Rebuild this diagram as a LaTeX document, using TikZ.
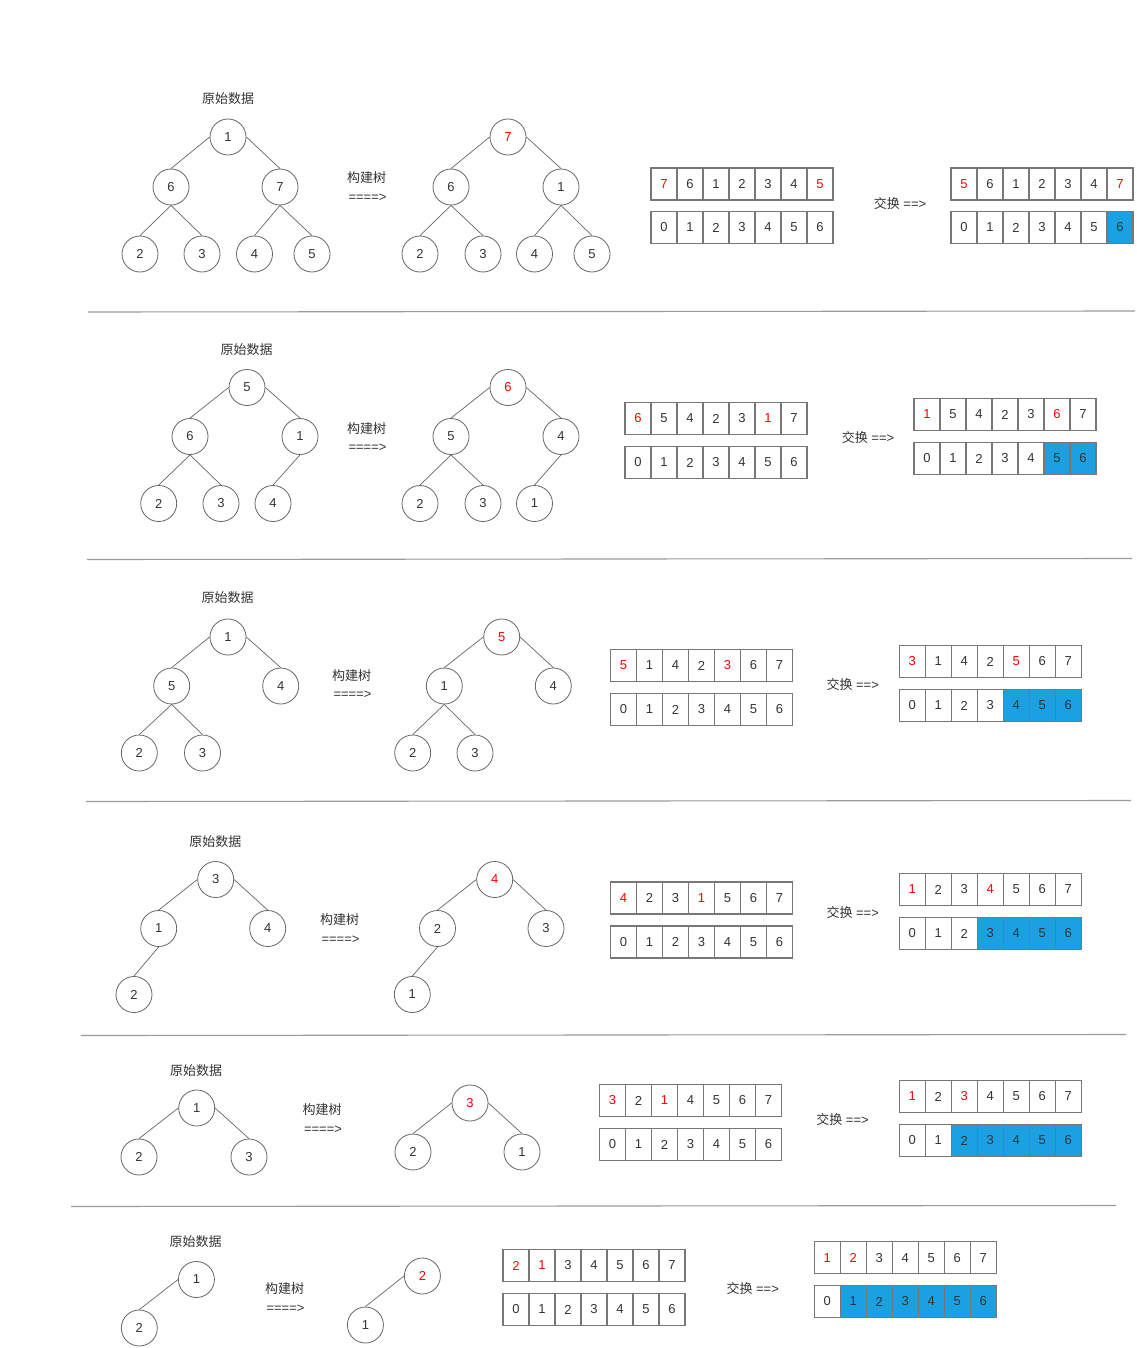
\documentclass[tikz,border=0pt]{standalone}
\usepackage{fontspec}
\setmainfont{Liberation Sans}
\newfontfamily\cjk{Noto Sans CJK SC}
\definecolor{ln}{HTML}{666666}
\definecolor{cellln}{HTML}{777777}
\definecolor{tx}{HTML}{333333}
\definecolor{cellblue}{HTML}{1BA1E2}
\definecolor{sepc}{HTML}{9A9A9A}
\tikzset{
  circ/.style={circle,draw=ln,line width=0.8pt,minimum size=36pt,inner sep=0pt,text=tx,font=\fontsize{13}{15}\selectfont},
  edge/.style={draw=ln,line width=0.7pt},
  cell/.style={rectangle,draw=cellln,line width=1.2pt,minimum width=26pt,minimum height=32pt,inner sep=0pt,text=tx,font=\fontsize{13}{15}\selectfont},
  nc/.style={},
  rc/.style={text=red},
  bc/.style={fill=cellblue},
  lbl/.style={text=tx,font=\cjk\fontsize{13}{15}\selectfont,inner sep=0pt},
  eqtxt/.style={text=tx,font=\fontsize{13}{15}\selectfont,inner sep=0pt},
  sepline/.style={draw=sepc,line width=1.1pt}
}
\newcommand\cellrow[4]{%
  \foreach \v/\s [count=\i from 0] in {#4}{%
    \node[cell,\s] (#1\i) at ({#2+13+26*\i},{#3+16}) {\v};}}
\begin{document}
\begin{tikzpicture}[x=1pt,y=-1pt]
\useasboundingbox (0,0) rectangle (1136,1348);
\fill[white] (0,0) rectangle (1136,1348);

% ================= Row 1 =================
\node[lbl] (t1) at (228,99) {原始数据};
\node[circ] (a1) at (228,137) {1};
\node[circ] (a2) at (171,187) {6};
\node[circ] (a3) at (280,187) {7};
\node[circ] (a4) at (140,254) {2};
\node[circ] (a5) at (202,254) {3};
\node[circ] (a6) at (254.5,254) {4};
\node[circ] (a7) at (312,254) {5};
\draw[edge] (a1.west) -- (a2.north);
\draw[edge] (a1.east) -- (a3.north);
\draw[edge] (a2.south) -- (a4.north);
\draw[edge] (a2.south) -- (a5.north);
\draw[edge] (a3.south) -- (a6.north);
\draw[edge] (a3.south) -- (a7.north);
\node[lbl] (k1) at (366.5,178) {构建树};
\node[eqtxt] (e1) at (367.5,198) {====>};
\node[circ,text=red] (b1) at (508,137) {7};
\node[circ] (b2) at (451,187) {6};
\node[circ] (b3) at (561,187) {1};
\node[circ] (b4) at (420,254) {2};
\node[circ] (b5) at (483,254) {3};
\node[circ] (b6) at (534.5,254) {4};
\node[circ] (b7) at (592,254) {5};
\draw[edge] (b1.west) -- (b2.north);
\draw[edge] (b1.east) -- (b3.north);
\draw[edge] (b2.south) -- (b4.north);
\draw[edge] (b2.south) -- (b5.north);
\draw[edge] (b3.south) -- (b6.north);
\draw[edge] (b3.south) -- (b7.north);
\cellrow{pa}{651}{168}{7/rc,6/nc,1/nc,2/nc,3/nc,4/nc,5/rc}
\cellrow{pb}{651}{211.5}{0/nc,1/nc,2/nc,3/nc,4/nc,5/nc,6/nc}
\node[eqtxt] (s1) at (900,204) {{\cjk 交换} ==>};
\cellrow{qa}{951}{168}{5/rc,6/nc,1/nc,2/nc,3/nc,4/nc,7/rc}
\cellrow{qb}{951}{211.5}{0/nc,1/nc,2/nc,3/nc,4/nc,5/nc,6/bc}
\coordinate (l1a) at (88,312);
\coordinate (l1b) at (1135,311);
\draw[sepline] (l1a) -- (l1b);

% ================= Row 2 =================
\node[lbl] (t2) at (246.5,350) {原始数据};
\node[circ] (c1) at (247,387.5) {5};
\node[circ] (c2) at (190,436.5) {6};
\node[circ] (c3) at (300,436.5) {1};
\node[circ] (c4) at (158.7,503.5) {2};
\node[circ] (c5) at (221,503.5) {3};
\node[circ] (c6) at (273,503.5) {4};
\draw[edge] (c1.west) -- (c2.north);
\draw[edge] (c1.east) -- (c3.north);
\draw[edge] (c2.south) -- (c4.north);
\draw[edge] (c2.south) -- (c5.north);
\draw[edge] (c3.south) -- (c6.north);
\node[lbl] (k2) at (366.5,429) {构建树};
\node[eqtxt] (e2) at (367.5,448) {====>};
\node[circ,text=red] (d1) at (508,387.5) {6};
\node[circ] (d2) at (451,436.5) {5};
\node[circ] (d3) at (561,436.5) {4};
\node[circ] (d4) at (420,503.5) {2};
\node[circ] (d5) at (483,503.5) {3};
\node[circ] (d6) at (534.5,503.5) {1};
\draw[edge] (d1.west) -- (d2.north);
\draw[edge] (d1.east) -- (d3.north);
\draw[edge] (d2.south) -- (d4.north);
\draw[edge] (d2.south) -- (d5.north);
\draw[edge] (d3.south) -- (d6.north);
\cellrow{ra}{625}{402.5}{6/rc,5/nc,4/nc,2/nc,3/nc,1/rc,7/nc}
\cellrow{rb}{625}{446.5}{0/nc,1/nc,2/nc,3/nc,4/nc,5/nc,6/nc}
\node[eqtxt] (s2) at (868,437.5) {{\cjk 交换} ==>};
\cellrow{ua}{914}{398.5}{1/rc,5/nc,4/nc,2/nc,3/nc,6/rc,7/nc}
\cellrow{ub}{914}{442.5}{0/nc,1/nc,2/nc,3/nc,4/nc,5/bc,6/bc}
\coordinate (l2a) at (87,559.5);
\coordinate (l2b) at (1132,558.5);
\draw[sepline] (l2a) -- (l2b);

% ================= Row 3 =================
\node[lbl] (t3) at (227.5,598) {原始数据};
\node[circ] (f1) at (228,637) {1};
\node[circ] (f2) at (171.7,686) {5};
\node[circ] (f3) at (280.7,686) {4};
\node[circ] (f4) at (139.3,753) {2};
\node[circ] (f5) at (202.5,753) {3};
\draw[edge] (f1.west) -- (f2.north);
\draw[edge] (f1.east) -- (f3.north);
\draw[edge] (f2.south) -- (f4.north);
\draw[edge] (f2.south) -- (f5.north);
\node[lbl] (k3) at (351.5,676) {构建树};
\node[eqtxt] (e3) at (352.5,695) {====>};
\node[circ,text=red] (g1) at (501.7,637) {5};
\node[circ] (g2) at (444.3,686) {1};
\node[circ] (g3) at (553.3,686) {4};
\node[circ] (g4) at (412.7,753) {2};
\node[circ] (g5) at (475,753) {3};
\draw[edge] (g1.west) -- (g2.north);
\draw[edge] (g1.east) -- (g3.north);
\draw[edge] (g2.south) -- (g4.north);
\draw[edge] (g2.south) -- (g5.north);
\cellrow{va}{610.5}{649.5}{5/rc,1/nc,4/nc,2/nc,3/rc,6/nc,7/nc}
\cellrow{vb}{610.5}{693.5}{0/nc,1/nc,2/nc,3/nc,4/nc,5/nc,6/nc}
\node[eqtxt] (s3) at (852.7,684.5) {{\cjk 交换} ==>};
\cellrow{wa}{899.3}{645.5}{3/rc,1/nc,4/nc,2/nc,5/rc,6/nc,7/nc}
\cellrow{wb}{899.3}{689.5}{0/nc,1/nc,2/nc,3/nc,4/bc,5/bc,6/bc}
\coordinate (l3a) at (86,801.5);
\coordinate (l3b) at (1131,800.5);
\draw[sepline] (l3a) -- (l3b);

% ================= Row 4 =================
\node[lbl] (t4) at (215.3,842) {原始数据};
\node[circ] (h1) at (215.7,879.5) {3};
\node[circ] (h2) at (158.7,928.5) {1};
\node[circ] (h3) at (267.7,928.5) {4};
\node[circ] (h4) at (134,994.5) {2};
\draw[edge] (h1.west) -- (h2.north);
\draw[edge] (h1.east) -- (h3.north);
\draw[edge] (h2.south) -- (h4.north);
\node[lbl] (k4) at (339.7,920) {构建树};
\node[eqtxt] (e4) at (340.5,940) {====>};
\node[circ,text=red] (m1) at (494.7,879.5) {4};
\node[circ] (m2) at (437.5,928.5) {2};
\node[circ] (m3) at (546,928.5) {3};
\node[circ] (m4) at (412.3,994.5) {1};
\draw[edge] (m1.west) -- (m2.north);
\draw[edge] (m1.east) -- (m3.north);
\draw[edge] (m2.south) -- (m4.north);
\cellrow{xa}{610.5}{882}{4/rc,2/nc,3/nc,1/rc,5/nc,6/nc,7/nc}
\cellrow{xb}{610.5}{926}{0/nc,1/nc,2/nc,3/nc,4/nc,5/nc,6/nc}
\node[eqtxt] (s4) at (852.7,913) {{\cjk 交换} ==>};
\cellrow{ya}{899.3}{873.5}{1/rc,2/nc,3/nc,4/rc,5/nc,6/nc,7/nc}
\cellrow{yb}{899.3}{917.5}{0/nc,1/nc,2/nc,3/bc,4/bc,5/bc,6/bc}
\coordinate (l4a) at (81,1035.5);
\coordinate (l4b) at (1126,1034.5);
\draw[sepline] (l4a) -- (l4b);

% ================= Row 5 =================
\node[lbl] (t5) at (196,1071) {原始数据};
\node[circ] (n1) at (196.7,1108) {1};
\node[circ] (n2) at (139,1157) {2};
\node[circ] (n3) at (249,1157) {3};
\draw[edge] (n1.west) -- (n2.north);
\draw[edge] (n1.east) -- (n3.north);
\node[lbl] (k5) at (322,1110) {构建树};
\node[eqtxt] (e5) at (323,1130) {====>};
\node[circ,text=red] (o1) at (470,1103) {3};
\node[circ] (o2) at (413,1152) {2};
\node[circ] (o3) at (522,1152) {1};
\draw[edge] (o1.west) -- (o2.north);
\draw[edge] (o1.east) -- (o3.north);
\cellrow{za}{599.5}{1084.5}{3/rc,2/nc,1/rc,4/nc,5/nc,6/nc,7/nc}
\cellrow{zb}{599.5}{1128.5}{0/nc,1/nc,2/nc,3/nc,4/nc,5/nc,6/nc}
\node[eqtxt] (s5) at (842.5,1119.5) {{\cjk 交换} ==>};
\cellrow{ka}{899.3}{1080.5}{1/rc,2/nc,3/rc,4/nc,5/nc,6/nc,7/nc}
\cellrow{kb}{899.3}{1124.5}{0/nc,1/nc,2/bc,3/bc,4/bc,5/bc,6/bc}
\coordinate (l5a) at (71,1206.5);
\coordinate (l5b) at (1116,1205.5);
\draw[sepline] (l5a) -- (l5b);

% ================= Row 6 =================
\node[lbl] (t6) at (195.5,1242) {原始数据};
\node[circ] (p1) at (196.4,1279.5) {1};
\node[circ] (p2) at (139.3,1328) {2};
\draw[edge] (p1.west) -- (p2.north);
\node[lbl] (k6) at (284.5,1289) {构建树};
\node[eqtxt] (e6) at (285.5,1309) {====>};
\node[circ,text=red] (w1) at (422.4,1276) {2};
\node[circ] (w2) at (365.4,1325) {1};
\draw[edge] (w1.west) -- (w2.north);
\cellrow{ma}{503}{1249.5}{2/rc,1/rc,3/nc,4/nc,5/nc,6/nc,7/nc}
\cellrow{mb}{503}{1293.5}{0/nc,1/nc,2/nc,3/nc,4/nc,5/nc,6/nc}
\node[eqtxt] (s6) at (752.7,1288) {{\cjk 交换} ==>};
\cellrow{na}{814.3}{1241.7}{1/rc,2/rc,3/nc,4/nc,5/nc,6/nc,7/nc}
\cellrow{nb}{814.3}{1285.5}{0/nc,1/bc,2/bc,3/bc,4/bc,5/bc,6/bc}
\end{tikzpicture}
\end{document}
